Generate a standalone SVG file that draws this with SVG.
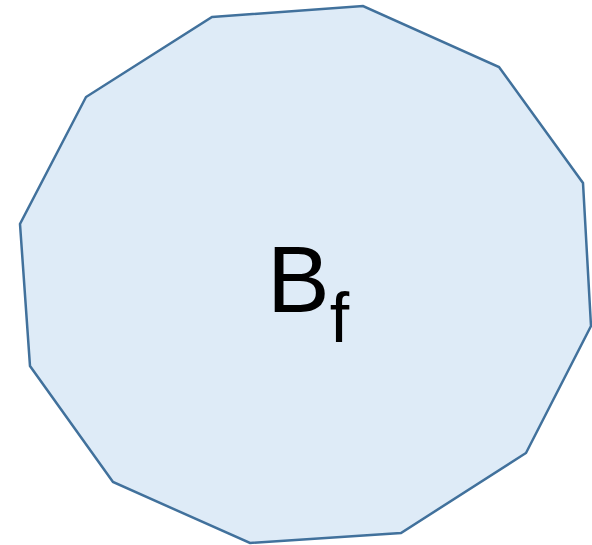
<svg xmlns="http://www.w3.org/2000/svg" width="592" height="545" viewBox="0 0 592 545">
<style>
.shape{fill:#DEEBF7;stroke:#41719C;stroke-width:2.5;stroke-linejoin:miter}
.lbl{font-family:"Liberation Sans","Open Sans",sans-serif;fill:#000}
</style>
<rect width="592" height="545" fill="#fff"/>
<g id="node-bf">
<polygon class="shape" points="212,17 363,6 499,67 583,183 591,326 526,453 401,533 250,543 113,482 30,366 20,224 86,97"/>
<text class="lbl" x="267" y="312" font-size="94">B<tspan font-size="70" dy="30">f</tspan></text>
</g>
</svg>
